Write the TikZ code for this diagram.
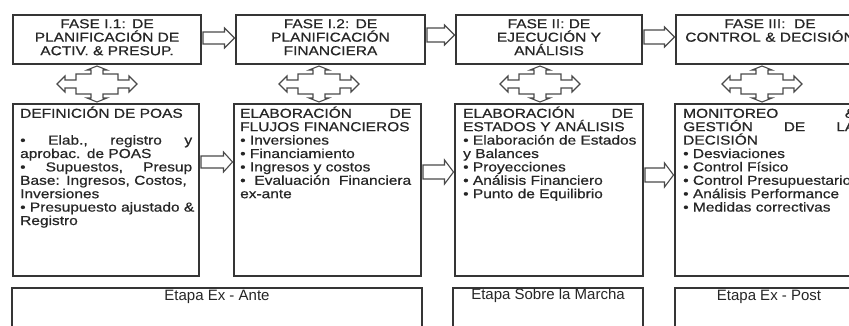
\documentclass[tikz,border=0pt]{standalone}
\usepackage{fontspec}
\setmainfont{Liberation Sans}
\newfontfamily\bxfont[FakeStretch=1.19,FakeBold=0.6]{Liberation Sans}
\usetikzlibrary{calc}
\definecolor{ink}{HTML}{262626}
\definecolor{framec}{HTML}{353535}
\definecolor{arrline}{HTML}{4A4A4A}
\newcommand\jline[2][172pt]{\makebox[#1][l]{#2}}
% block arrow from node #1 to node #2 at pixel height #3
% #4 shaft half height, #5 head half height, #6 head length
\newcommand\harrow[6]{%
  \coordinate (ha) at ($(#1.east |- 0,-#3)+(1,0)$);
  \coordinate (hb) at ($(#2.west |- 0,-#3)+(-0.5,0)$);
  \draw[arr] ($(ha)+(0,#4)$) -- ($(hb)+(-#6,#4)$) -- ($(hb)+(-#6,#5)$) -- (hb)
    -- ($(hb)+(-#6,-#5)$) -- ($(hb)+(-#6,-#4)$) -- ($(ha)+(0,-#4)$) -- cycle;}
\newcommand\quadarrow[1]{%
  \draw[arr, shift={(#1)}] (0,18) -- (10,14) -- (6,14) -- (6,10) -- (21,10) -- (21,4)
    -- (32,4) -- (32,8) -- (40,0) -- (32,-8) -- (32,-4) -- (21,-4) -- (21,-10)
    -- (6,-10) -- (6,-14) -- (10,-14) -- (0,-18) -- (-10,-14) -- (-6,-14)
    -- (-6,-10) -- (-21,-10) -- (-21,-4) -- (-32,-4) -- (-32,-8) -- (-40,0)
    -- (-32,8) -- (-32,4) -- (-21,4) -- (-21,10) -- (-6,10) -- (-6,14)
    -- (-10,14) -- cycle;}
\begin{document}
\begin{tikzpicture}[x=1pt,y=1pt,
  box/.style={draw=framec, line width=2pt, inner sep=0pt, anchor=north west},
  toptext/.style={font=\bxfont\fontsize{13}{13.5}\selectfont, text=ink, align=center,
    text width=188pt, inner sep=0pt, anchor=base},
  midtext/.style={font=\bxfont\fontsize{13}{13.4}\selectfont, text=ink, align=left,
    text width=178pt, inner sep=0pt, anchor=base west},
  bottext/.style={font=\fontsize{15}{16}\selectfont, text=ink, inner sep=0pt, anchor=base},
  arr/.style={draw=arrline, line width=1.1pt, fill=white, line join=miter},
]
\useasboundingbox (0,0) rectangle (849,-325);
\clip (0,0) rectangle (849,-325);
\fill[white] (0,0) rectangle (849,-325);

% top row
\node[box, minimum width=188pt, minimum height=49pt] (t1) at (12,-14) {};
\node[box, minimum width=189pt, minimum height=49pt] (t2) at (235,-14) {};
\node[box, minimum width=186pt, minimum height=49pt] (t3) at (455,-14) {};
\node[box, minimum width=188pt, minimum height=49pt] (t4) at (675,-14) {};
% middle row
\node[box, minimum width=186pt, minimum height=172pt] (m1) at (12,-103) {};
\node[box, minimum width=187pt, minimum height=172pt] (m2) at (233,-103) {};
\node[box, minimum width=188pt, minimum height=172pt] (m3) at (454,-103) {};
\node[box, minimum width=188pt, minimum height=172pt] (m4) at (674,-103) {};
% bottom row
\node[box, minimum width=410pt, minimum height=60pt] (b1) at (11,-287) {};
\node[box, minimum width=190pt, minimum height=60pt] (b2) at (452,-287) {};
\node[box, minimum width=188pt, minimum height=60pt] (b3) at (674,-287) {};

% top texts
\node[toptext] (t1x) at ($(t1.north)+(0,-14.2)$) {FASE I.1: DE\\PLANIFICACIÓN DE\\ACTIV. \& PRESUP.};
\node[toptext] (t2x) at ($(t2.north)+(0,-14.2)$) {FASE I.2: DE\\PLANIFICACIÓN\\FINANCIERA};
\node[toptext] (t3x) at ($(t3.north)+(0,-14.2)$) {FASE II: DE\\EJECUCIÓN Y\\ANÁLISIS};
\node[toptext] (t4x) at ($(t4.north)+(0,-14.2)$) {FASE III:\ \ DE\\CONTROL \& DECISIÓN};

% middle texts
\node[midtext] (m1x) at ($(m1.north west)+(8,-14.8)$) {DEFINICIÓN DE POAS\\[13.4pt]
\jline{•\hfill Elab.,\hfill registro\hfill y}\\
aprobac. de POAS\\
\jline{•\hfill Supuestos,\hfill Presup}\\
Base: Ingresos, Costos,\\
Inversiones\\
• Presupuesto ajustado \&\\
Registro};
\node[midtext] (m2x) at ($(m2.north west)+(7,-14.8)$) {\jline[171pt]{ELABORACIÓN\hfill DE}\\
FLUJOS FINANCIEROS\\
• Inversiones\\
• Financiamiento\\
• Ingresos y costos\\
\jline[171pt]{•\hfill Evaluación\hfill Financiera}\\
ex-ante};
\node[midtext] (m3x) at ($(m3.north west)+(9,-14.8)$) {\jline[170pt]{ELABORACIÓN\hfill DE}\\
ESTADOS Y ANÁLISIS\\
• Elaboración de Estados\\
y Balances\\
• Proyecciones\\
• Análisis Financiero\\
• Punto de Equilibrio};
\node[midtext] (m4x) at ($(m4.north west)+(9,-14.8)$) {\jline{MONITOREO\hfill \&}\\
\jline{GESTIÓN\hfill DE\hfill LA}\\
DECISIÓN\\
• Desviaciones\\
• Control Físico\\
• Control Presupuestario\\
• Análisis Performance\\
• Medidas correctivas};

% bottom texts
\node[bottext] (b1x) at ($(b1.north)+(0,-13.5)$) {Etapa Ex - Ante};
\node[bottext] (b2x) at ($(b2.north)+(0,-12)$) {Etapa Sobre la Marcha};
\node[bottext] (b3x) at ($(b3.north)+(0,-13.5)$) {Etapa Ex - Post};

% horizontal block arrows
\harrow{t1}{t2}{38}{6}{10}{10}
\harrow{t2}{t3}{35}{7}{10}{10}
\harrow{t3}{t4}{37}{7}{10}{10}
\harrow{m1}{m2}{162}{6}{10}{9}
\harrow{m2}{m3}{172}{7}{12}{9}
\harrow{m3}{m4}{175}{7}{12}{9}

% four-way arrows
\coordinate (q1) at ($(t1.south west)+(85,-19)$);
\coordinate (q2) at ($(t2.south west)+(84,-19)$);
\coordinate (q3) at ($(t3.south west)+(85,-19)$);
\coordinate (q4) at ($(t4.south west)+(87,-19)$);
\quadarrow{q1}
\quadarrow{q2}
\quadarrow{q3}
\quadarrow{q4}
\end{tikzpicture}
\end{document}
